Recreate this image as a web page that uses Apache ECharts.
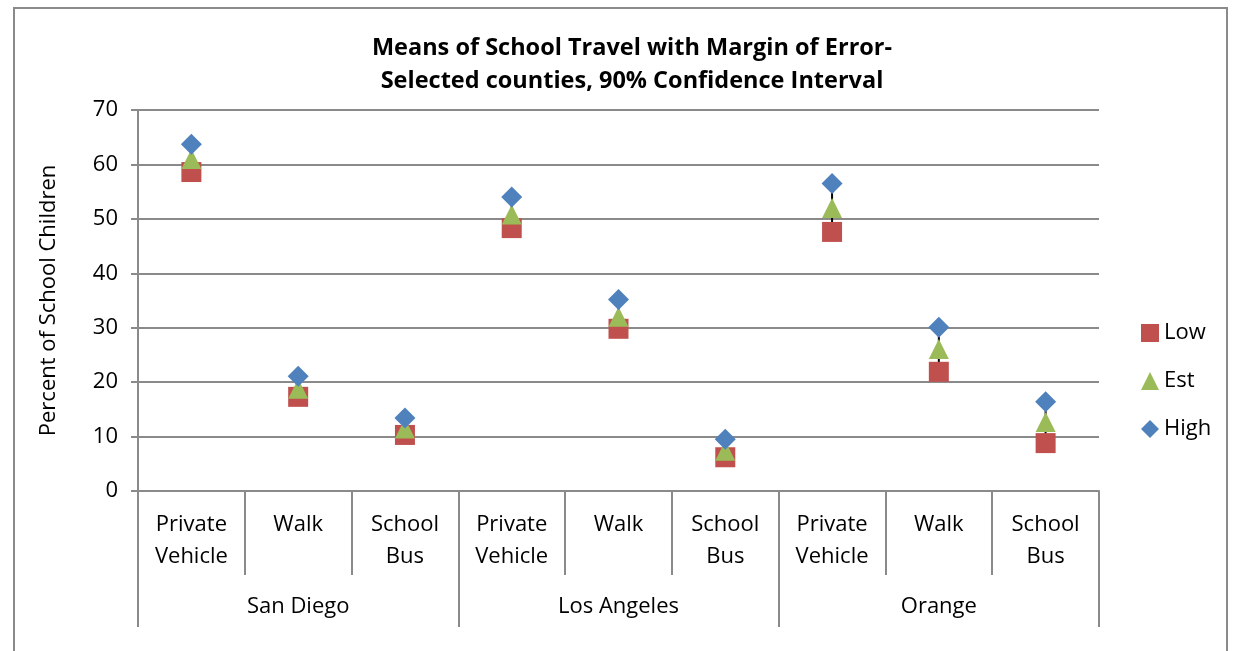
<!DOCTYPE html>
<html>
<head>
<meta charset="utf-8">
<title>Means of School Travel</title>
<script src="https://cdn.jsdelivr.net/npm/echarts@6/dist/echarts.min.js"></script>
<style>
  html, body { margin: 0; padding: 0; background: #fff; }
  #main { width: 1234px; height: 651px; }
</style>
</head>
<body>
<div id="main"></div>
<script>
// data
const modes = ['Private\nVehicle', 'Walk', 'School\nBus', 'Private\nVehicle', 'Walk', 'School\nBus', 'Private\nVehicle', 'Walk', 'School\nBus'];
const counties = ['San Diego', 'Los Angeles', 'Orange'];
const low = [58.6, 17.3, 10.3, 48.3, 29.8, 6.2, 47.6, 21.9, 8.8];
const est = [61.0, 18.8, 11.5, 50.8, 32.0, 7.4, 52.0, 26.1, 12.7];
const high = [63.7, 21.1, 13.4, 54.0, 35.2, 9.5, 56.5, 30.1, 16.4];
const yTicks = { min: 0, max: 70, interval: 10 };

const font = '"Open Sans", Lato, sans-serif';
const gray = '#8a8a8a';

let chart = echarts.init(document.getElementById('main'));

let hiLo = modes.map((m, i) => [i, low[i], high[i]]);

let option = {
  animation: false,
  textStyle: { fontFamily: font, color: '#000' },
  title: {
    text: 'Means of School Travel with Margin of Error-\nSelected counties, 90% Confidence Interval',
    left: 627,
    textAlign: 'center',
    top: 27,
    textStyle: { fontSize: 23.5, fontWeight: 'bold', lineHeight: 33, color: '#000', fontFamily: font }
  },
  graphic: [{
    type: 'rect',
    shape: { x: 14, y: 8, width: 1213, height: 700 },
    style: { fill: 'none', stroke: gray, lineWidth: 2 },
    silent: true
  }],
  legend: {
    orient: 'vertical',
    left: 1136,
    top: 317,
    itemWidth: 18,
    itemHeight: 18,
    itemGap: 26,
    textStyle: { fontSize: 22, color: '#000', fontFamily: font },
    data: ['Low', 'Est', 'High']
  },
  grid: { left: 138, right: 135, top: 110, bottom: 160, containLabel: false },
  xAxis: [
    {
      type: 'category',
      data: modes,
      axisLine: { show: true, lineStyle: { color: gray, width: 2 } },
      axisTick: { show: true, interval: 0, length: 84, lineStyle: { color: gray, width: 2 } },
      axisLabel: { interval: 0, fontSize: 22, lineHeight: 32, margin: 18, color: '#000', fontFamily: font },
      splitLine: { show: false }
    },
    {
      type: 'category',
      position: 'bottom',
      data: counties,
      axisLine: { show: false },
      axisTick: { show: true, interval: 0, length: 136, lineStyle: { color: gray, width: 2 } },
      axisLabel: { interval: 0, fontSize: 22, margin: 105, color: '#000', fontFamily: font },
      splitLine: { show: false }
    }
  ],
  yAxis: {
    type: 'value',
    min: yTicks.min,
    max: yTicks.max,
    interval: yTicks.interval,
    name: 'Percent of School Children',
    nameLocation: 'middle',
    nameGap: 78,
    nameTextStyle: { fontSize: 22, color: '#000', fontFamily: font },
    axisLine: { show: true, lineStyle: { color: gray, width: 2 } },
    axisTick: { show: true, length: 7, lineStyle: { color: gray, width: 2 } },
    axisLabel: { fontSize: 22, margin: 20, color: '#000', fontFamily: font },
    splitLine: { show: true, lineStyle: { color: gray, width: 2 } }
  },
  series: [
    {
      // high-low lines
      type: 'custom',
      name: 'range',
      z: 1,
      data: hiLo,
      renderItem: function (params, api) {
        let a = api.coord([api.value(0), api.value(1)]);
        let b = api.coord([api.value(0), api.value(2)]);
        return {
          type: 'line',
          shape: { x1: a[0], y1: a[1], x2: b[0], y2: b[1] },
          style: { stroke: '#000', lineWidth: 2 }
        };
      }
    },
    {
      name: 'Low',
      type: 'scatter',
      symbol: 'rect',
      symbolSize: 20,
      z: 2,
      itemStyle: { color: '#C0504D', opacity: 1 },
      data: low
    },
    {
      name: 'Est',
      type: 'scatter',
      symbol: 'triangle',
      symbolSize: 20,
      z: 3,
      itemStyle: { color: '#9BBB59', opacity: 1 },
      data: est
    },
    {
      name: 'High',
      type: 'scatter',
      symbol: 'diamond',
      symbolSize: 21,
      z: 4,
      itemStyle: { color: '#4F81BD', opacity: 1 },
      data: high
    }
  ]
};

chart.setOption(option);
</script>
</body>
</html>
